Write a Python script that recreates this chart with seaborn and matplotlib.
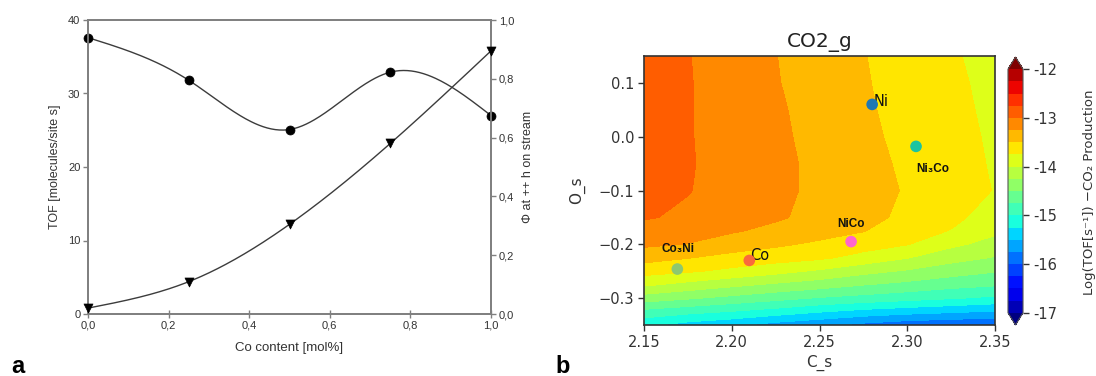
import numpy as np
import matplotlib
matplotlib.use("Agg")
import matplotlib.pyplot as plt
from matplotlib.colors import Normalize
import seaborn as sns

# ---------------- data: panel a ----------------
co_content = [0.0, 0.25, 0.5, 0.75, 1.0]
tof = [37.6, 31.8, 25.1, 32.9, 27.0]
phi = [0.02, 0.11, 0.305, 0.58, 0.895]
x_ticks_a = [0.0, 0.2, 0.4, 0.6, 0.8, 1.0]
x_ticklabels_a = ["0,0", "0,2", "0,4", "0,6", "0,8", "1,0"]
tof_ticks = [0, 10, 20, 30, 40]
phi_ticks = [0.0, 0.2, 0.4, 0.6, 0.8, 1.0]
phi_ticklabels = ["0,0", "0,2", "0,4", "0,6", "0,8", "1,0"]

# ---------------- data: panel b ----------------
c_s = [2.15, 2.175, 2.20, 2.225, 2.25, 2.275, 2.30, 2.325, 2.35]
o_s = [0.15, 0.10, 0.05, 0.0, -0.05, -0.10, -0.15, -0.175, -0.20,
       -0.225, -0.25, -0.275, -0.30, -0.325, -0.35]
# log TOF columns (one list per C_s value, rows follow o_s)
col_215 = [-12.865, -12.86, -12.86, -12.86, -12.865, -12.88, -12.98, -13.09, -13.205, -13.406, -13.654, -13.958, -14.367, -14.827, -15.2]
col_2175 = [-12.99, -12.985, -12.985, -12.985, -12.98, -12.99, -13.04, -13.147, -13.259, -13.49, -13.72, -14.078, -14.469, -14.923, -15.35]
col_220 = [-13.117, -13.11, -13.10, -13.095, -13.09, -13.09, -13.16, -13.226, -13.365, -13.586, -13.81, -14.19, -14.57, -15.01, -15.45]
col_2225 = [-13.245, -13.235, -13.215, -13.205, -13.19, -13.195, -13.22, -13.31, -13.46, -13.642, -13.92, -14.29, -14.67, -15.11, -15.6]
col_225 = [-13.37, -13.36, -13.34, -13.32, -13.305, -13.30, -13.32, -13.40, -13.545, -13.705, -14.04, -14.38, -14.77, -15.23, -15.7]
col_2275 = [-13.49, -13.48, -13.465, -13.445, -13.425, -13.41, -13.42, -13.49, -13.64, -13.84, -14.175, -14.49, -14.84, -15.33, -15.82]
col_230 = [-13.61, -13.59, -13.58, -13.565, -13.54, -13.52, -13.56, -13.65, -13.74, -13.99, -14.28, -14.57, -14.91, -15.40, -15.92]
col_2325 = [-13.72, -13.70, -13.69, -13.675, -13.655, -13.64, -13.69, -13.76, -13.945, -14.16, -14.39, -14.66, -14.98, -15.46, -15.96]
col_235 = [-13.84, -13.82, -13.80, -13.785, -13.775, -13.76, -13.86, -13.95, -14.095, -14.267, -14.483, -14.72, -15.05, -15.52, -16.0]

catalysts = ["Ni", "Ni₃Co", "NiCo", "Co", "Co₃Ni"]
cat_c = [2.28, 2.305, 2.268, 2.21, 2.169]
cat_o = [0.06, -0.018, -0.195, -0.23, -0.246]
cat_colors = ["#1f77b4", "#1cc4a0", "#ff66cc", "#fa6a3c", "#8cc870"]
cbar_ticks = [-17, -16, -15, -14, -13, -12]
cbar_ticklabels = ["-17", "-16", "-15", "-14", "-13", "-12"]


def natural_spline(x, y, xs):
    x = np.asarray(x, float)
    y = np.asarray(y, float)
    n = len(x)
    h = np.diff(x)
    A = np.zeros((n, n))
    b = np.zeros(n)
    A[0, 0] = 1
    A[-1, -1] = 1
    for i in range(1, n - 1):
        A[i, i - 1] = h[i - 1]
        A[i, i] = 2 * (h[i - 1] + h[i])
        A[i, i + 1] = h[i]
        b[i] = 3 * ((y[i + 1] - y[i]) / h[i] - (y[i] - y[i - 1]) / h[i - 1])
    c = np.linalg.solve(A, b)
    out = np.empty_like(xs)
    for k, xv in enumerate(xs):
        i = min(max(np.searchsorted(x, xv) - 1, 0), n - 2)
        t = xv - x[i]
        bi = (y[i + 1] - y[i]) / h[i] - h[i] * (2 * c[i] + c[i + 1]) / 3
        di = (c[i + 1] - c[i]) / (3 * h[i])
        out[k] = y[i] + bi * t + c[i] * t ** 2 + di * t ** 3
    return out


sns.set_theme(style="ticks")
plt.rcParams["font.family"] = ["DejaVu Sans"]

W, H = 1096, 376
fig = plt.figure(figsize=(W / 100, H / 100), dpi=100)


def fx(px):
    return px / W


def fy(py):
    return 1 - py / H


# ================= panel a =================
gray = "#808080"
txt = "#333333"
afont = ["Liberation Sans", "DejaVu Sans"]
ax = fig.add_axes([fx(88), fy(314), fx(491) - fx(88), fy(20) - fy(314)])
ax2 = ax.twinx()

xs = np.linspace(0, 1, 300)
sns.lineplot(x=xs, y=natural_spline(co_content, tof, xs), ax=ax, color="#3c3c3c",
             lw=1.0, sort=False)
sns.lineplot(x=xs, y=natural_spline(co_content, phi, xs), ax=ax2, color="#3c3c3c",
             lw=1.0, sort=False)
sns.scatterplot(x=co_content, y=tof, ax=ax, marker="o", s=42, color="black",
                edgecolor="black", linewidth=0.5, clip_on=False, zorder=5)
sns.scatterplot(x=co_content, y=phi, ax=ax2, marker="v", s=42, color="black",
                edgecolor="black", linewidth=0.5, clip_on=False, zorder=5)

ax.set_xlim(0, 1)
ax.set_ylim(0, 40)
ax2.set_ylim(0, 1)
ax.set_xticks(x_ticks_a)
ax.set_xticklabels(x_ticklabels_a)
ax.set_yticks(tof_ticks)
ax.set_yticklabels([str(t) for t in tof_ticks])
ax2.set_yticks(phi_ticks)
ax2.set_yticklabels(phi_ticklabels)
for a in (ax, ax2):
    for s in a.spines.values():
        s.set_color(gray)
        s.set_linewidth(1.3)
        s.set_visible(True)
    for lab in a.get_xticklabels() + a.get_yticklabels():
        lab.set_family(afont)
        lab.set_fontsize(8)
        lab.set_color(txt)
ax.tick_params(axis="x", direction="inout", length=6, width=1.0, color=gray, pad=2)
ax.tick_params(axis="y", direction="out", length=3.5, width=1.0, color=gray, pad=2)
ax2.tick_params(axis="y", direction="out", length=3.5, width=1.0, color=gray, pad=2)
ax.set_xlabel("Co content [mol%]", family=afont, fontsize=9.5, color=txt)
ax.set_ylabel("TOF [molecules/site s]", family=afont, fontsize=9, color=txt)
ax2.set_ylabel("Φ at ++ h on stream", family=afont, fontsize=9, color=txt)
ax.xaxis.set_label_coords(0.499, -0.095)
ax.yaxis.set_label_coords(-0.067, 0.5)
ax2.yaxis.set_label_coords(1.077, 0.5)

# ================= panel b =================
axb = fig.add_axes([fx(644), fy(325), fx(995) - fx(644), fy(56) - fy(325)])
Z = np.array([col_215, col_2175, col_220, col_2225, col_225, col_2275,
              col_230, col_2325, col_235]).T
levels = np.arange(-17, -11.99, 0.25)
cs = axb.contourf(c_s, o_s, Z, levels=levels, cmap="jet", extend="both",
                  norm=Normalize(vmin=-17.125, vmax=-11.875))
sns.scatterplot(x=cat_c, y=cat_o, hue=catalysts, palette=cat_colors, s=70,
                edgecolor="none", legend=False, ax=axb, zorder=5)

label_offsets = {"Ni": (1, 3), "Ni₃Co": (17, -23), "NiCo": (0, 17.5),
                 "Co": (1, 5), "Co₃Ni": (1, 20)}
for name, xv, yv in zip(catalysts, cat_c, cat_o):
    off = label_offsets[name]
    if name in ("Ni", "Co"):
        axb.annotate(name, (xv, yv), xytext=off, textcoords="offset pixels",
                     ha="left", va="center", fontsize=10.5, color="#111111")
    else:
        axb.annotate(name, (xv, yv), xytext=off, textcoords="offset pixels",
                     ha="center", va="center", fontsize=8.5, fontweight="bold",
                     family=afont, color="#111111")

axb.set_xlim(2.15, 2.35)
axb.set_ylim(-0.35, 0.15)
axb.set_xticks([2.15, 2.20, 2.25, 2.30, 2.35])
axb.set_yticks([-0.3, -0.2, -0.1, 0.0, 0.1])
axb.tick_params(direction="out", length=4, width=1, color="#333333", labelsize=10.5,
                labelcolor="#333333", pad=3)
for s in axb.spines.values():
    s.set_color("#333333")
    s.set_linewidth(1.2)
axb.set_title("CO2_g", fontsize=14.5, color="#222222", pad=6.5)
axb.set_xlabel("C_s", fontsize=11, color="#333333")
axb.set_ylabel("O_s", fontsize=11, color="#333333")
axb.xaxis.set_label_coords(0.5, -0.11)
axb.yaxis.set_label_coords(-0.168, 0.5)

cax = fig.add_axes([fx(1008), fy(325), fx(1023) - fx(1008), fy(57) - fy(325)])
cb = fig.colorbar(cs, cax=cax, ticks=cbar_ticks)
cb.ax.set_yticklabels(cbar_ticklabels)
cb.ax.tick_params(direction="out", length=4, width=1, labelsize=10.5,
                  labelcolor="#333333", color="#333333")
cb.outline.set_edgecolor("#555555")
cb.outline.set_linewidth(0.8)
fig.text(fx(1090), fy(192), "Log(TOF[s⁻¹]) −CO₂ Production", rotation=90,
         ha="center", va="center", fontsize=9.5, color="#333333")

# panel letters
fig.text(fx(11), fy(373), "a", family=afont, fontsize=17, fontweight="bold",
         ha="left", va="baseline", color="black")
fig.text(fx(555), fy(373), "b", family=afont, fontsize=17, fontweight="bold",
         ha="left", va="baseline", color="black")

fig.savefig("out.png", dpi=100)
